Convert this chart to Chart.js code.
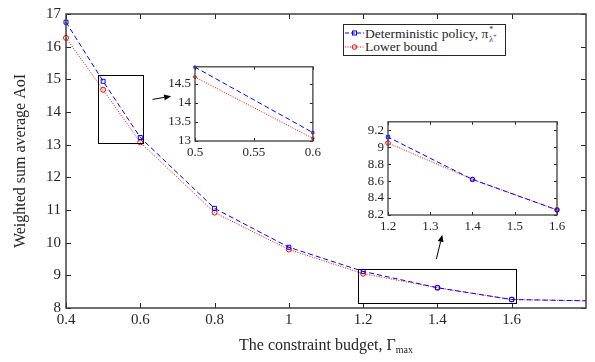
<!DOCTYPE html>
<html><head><meta charset="utf-8">
<script src="https://cdn.jsdelivr.net/npm/chart.js@4"></script>
<style>
html,body{margin:0;padding:0;background:#fff;}
#wrap{position:relative;width:595px;height:362px;overflow:hidden;font-family:"Liberation Serif","DejaVu Serif",serif;color:#262626;}
canvas{position:absolute;}
#legend{position:absolute;left:343px;top:24px;width:161px;height:30px;border:1px solid #262626;background:#fff;font-size:13.5px;font-family:"Liberation Serif",serif;}
#legend .row{position:absolute;left:0;height:14px;line-height:14px;white-space:nowrap;}
#legend svg{position:absolute;left:1px;top:0;}
#legend .txt{position:absolute;left:21px;top:0;font-family:"Liberation Serif",serif;}
.ss{display:inline-block;vertical-align:-4px;font-size:8px;line-height:7px;margin-left:1px;}
.ss span{display:block;}
#xtitle{position:absolute;left:176px;width:300px;top:336px;text-align:center;font-size:16px;line-height:18px;font-family:"Liberation Serif",serif;}
#xtitle sub{font-size:10px;vertical-align:-3px;}
</style></head><body>
<div id="wrap">
<canvas id="main" width="595" height="362" style="left:0;top:0;width:595px;height:362px"></canvas>
<canvas id="in1" width="185" height="115" style="left:140px;top:55px;width:185px;height:115px"></canvas>
<canvas id="in2" width="225" height="130" style="left:345px;top:110px;width:225px;height:130px"></canvas>
<div id="legend">
  <div class="row" style="top:1px;width:160px">
    <svg width="19" height="14"><line x1="0" y1="7" x2="19" y2="7" stroke="#0000ff" stroke-width="1" stroke-dasharray="4,2"/><rect x="7.5" y="5" width="4" height="4" fill="none" stroke="#0000ff" stroke-width="1"/></svg>
    <span class="txt">Deterministic policy, π<span class="ss"><span>*</span><span>λ<sup style="font-size:6px">+</sup></span></span></span>
  </div>
  <div class="row" style="top:15px;width:160px">
    <svg width="19" height="14"><line x1="0" y1="7" x2="19" y2="7" stroke="#ff0000" stroke-width="1" stroke-dasharray="1,1.5"/><circle cx="9.5" cy="7" r="2.3" fill="none" stroke="#ff0000" stroke-width="1"/></svg>
    <span class="txt">Lower bound</span>
  </div>
</div>
<div id="xtitle">The constraint budget, Γ<sub>max</sub></div>
</div>
<script>
// ---- data ----
const budget = [0.4, 0.5, 0.6, 0.8, 1.0, 1.2, 1.4, 1.6, 2.0];
const deterministicAoI = [16.75, 14.94, 13.22, 11.05, 9.86, 9.12, 8.62, 8.26, 8.18];
const lowerBoundAoI = [16.27, 14.68, 13.07, 10.92, 9.79, 9.05, 8.62, 8.26, 8.18];
const mainXTicks = [0.4, 0.6, 0.8, 1.0, 1.2, 1.4, 1.6];
const mainYTicks = [8, 9, 10, 11, 12, 13, 14, 15, 16, 17];
const inset1XTicks = [0.5, 0.55, 0.6];
const inset1YTicks = [13, 13.5, 14, 14.5];
const inset2XTicks = [1.2, 1.3, 1.4, 1.5, 1.6];
const inset2YTicks = [8.2, 8.4, 8.6, 8.8, 9.0, 9.2];
// zoom boxes [x0, x1, y0, y1] and arrows [xStart, yStart, xEnd, yEnd] in data units
const zoomBoxes = [[0.485, 0.605, 13.05, 15.13], [1.187, 1.612, 8.14, 9.19]];
const zoomArrows = [[0.633, 14.385, 0.683, 14.485], [1.397, 9.494, 1.413, 10.24]];

const SERIF = "'Liberation Serif', 'Times New Roman', serif";
Chart.defaults.font.family = SERIF;
Chart.defaults.color = '#262626';

const pts = (ys) => budget.map((x, i) => ({x, y: ys[i]}));
const fmt = v => String(+(+v).toFixed(2));

const frame = {
  id: 'frame',
  afterDatasetsDraw(chart, args, o) {
    const {ctx, chartArea: a, scales: {x, y}} = chart;
    ctx.save();
    ctx.strokeStyle = '#262626';
    ctx.lineWidth = 1;
    const L = o.len;
    ctx.beginPath();
    o.xt.forEach(v => {
      const px = Math.round(x.getPixelForValue(v)) + 0.5;
      ctx.moveTo(px, a.bottom); ctx.lineTo(px, a.bottom - L);
      ctx.moveTo(px, a.top); ctx.lineTo(px, a.top + L);
    });
    o.yt.forEach(v => {
      const py = Math.round(y.getPixelForValue(v)) + 0.5;
      ctx.moveTo(a.left, py); ctx.lineTo(a.left + L, py);
      ctx.moveTo(a.right, py); ctx.lineTo(a.right - L, py);
    });
    ctx.stroke();
    ctx.lineWidth = o.bw;
    ctx.strokeStyle = '#404040';
    ctx.strokeRect(a.left, a.top, a.right - a.left, a.bottom - a.top);
    if (o.boxes) {
      ctx.strokeStyle = '#000';
      ctx.lineWidth = 1;
      o.boxes.forEach(b => {
        const x0 = x.getPixelForValue(b[0]), x1 = x.getPixelForValue(b[1]);
        const y0 = y.getPixelForValue(b[2]), y1 = y.getPixelForValue(b[3]);
        ctx.strokeRect(Math.round(x0) + 0.5, Math.round(y1) + 0.5, Math.round(x1 - x0), Math.round(y0 - y1));
      });
      o.arrows.forEach(r => {
        const sx = x.getPixelForValue(r[0]), sy = y.getPixelForValue(r[1]);
        const ex = x.getPixelForValue(r[2]), ey = y.getPixelForValue(r[3]);
        const ang = Math.atan2(ey - sy, ex - sx);
        const h = 7, w = 3;
        const bx = ex - h * Math.cos(ang), by = ey - h * Math.sin(ang);
        ctx.beginPath(); ctx.moveTo(sx, sy); ctx.lineTo(bx, by); ctx.stroke();
        ctx.beginPath();
        ctx.moveTo(ex, ey);
        ctx.lineTo(bx + w * Math.sin(ang), by - w * Math.cos(ang));
        ctx.lineTo(bx - w * Math.sin(ang), by + w * Math.cos(ang));
        ctx.closePath(); ctx.fillStyle = '#000'; ctx.fill();
      });
    }
    ctx.restore();
  }
};
const whiteBg = {
  id: 'whiteBg',
  beforeDraw(chart) {
    const {ctx, chartArea: a} = chart;
    ctx.save(); ctx.fillStyle = '#fff';
    ctx.fillRect(a.left, a.top, a.right - a.left, a.bottom - a.top);
    ctx.restore();
  }
};

function datasets(rB, rR, clip) {
  return [
    {data: pts(deterministicAoI), borderColor: '#0000ff', borderWidth: 1, borderDash: [5, 3],
     pointStyle: 'rect', pointRadius: rB, pointBorderColor: '#0000ff', pointBackgroundColor: 'rgba(0,0,0,0)',
     pointBorderWidth: 1, tension: 0, clip},
    {data: pts(lowerBoundAoI), borderColor: '#ff0000', borderWidth: 1, borderDash: [1, 1.5],
     pointStyle: 'circle', pointRadius: rR, pointBorderColor: '#ff0000', pointBackgroundColor: 'rgba(0,0,0,0)',
     pointBorderWidth: 1, tension: 0, clip}
  ];
}

function makeChart(id, cfg) {
  return new Chart(document.getElementById(id), {
    type: 'line',
    data: {datasets: datasets(cfg.rB, cfg.rR, cfg.clip)},
    plugins: cfg.bg ? [whiteBg, frame] : [frame],
    options: {
      responsive: false, animation: false, devicePixelRatio: 1,
      layout: {padding: cfg.pad},
      plugins: {legend: {display: false}, tooltip: {enabled: false},
        frame: {xt: cfg.xt, yt: cfg.yt, len: cfg.len, bw: cfg.bw, boxes: cfg.boxes, arrows: cfg.arrows}},
      scales: {
        x: {type: 'linear', min: cfg.xr[0], max: cfg.xr[1],
          grid: {display: false, drawTicks: false}, border: {display: false},
          afterBuildTicks: s => { s.ticks = cfg.xt.map(v => ({value: v})); },
          afterFit: s => { s.height = cfg.xh; },
          ticks: {font: {family: SERIF, size: cfg.fs}, padding: cfg.xpad, maxRotation: 0, autoSkip: false, callback: fmt}},
        y: {type: 'linear', min: cfg.yr[0], max: cfg.yr[1],
          grid: {display: false, drawTicks: false}, border: {display: false},
          afterBuildTicks: s => { s.ticks = cfg.yt.map(v => ({value: v})); },
          afterFit: s => { s.width = cfg.yw; },
          title: cfg.ytitle ? {display: true, text: cfg.ytitle, font: {family: SERIF, size: 16}, padding: {top: 11, bottom: 0}} : {display: false},
          ticks: {font: {family: SERIF, size: cfg.fs}, padding: cfg.ypad, autoSkip: false, callback: fmt}}
      }
    }
  });
}

makeChart('main', {xr: [0.4, 1.8], yr: [8, 17], xt: mainXTicks, yt: mainYTicks,
  pad: {top: 11, right: 9, left: 0, bottom: 0}, xh: 54, yw: 66, fs: 15, xpad: 3, ypad: 5,
  len: 5, bw: 1.5, rB: 2.8, rR: 2.5, clip: {left: 8, top: 8, right: 0, bottom: 8},
  ytitle: 'Weighted sum average AoI', boxes: zoomBoxes, arrows: zoomArrows});

makeChart('in1', {xr: [0.5, 0.6], yr: [13, 14.95], xt: inset1XTicks, yt: inset1YTicks,
  pad: {top: 6, right: 11, left: 0, bottom: 0}, xh: 29, yw: 55, fs: 13, xpad: 4, ypad: 4,
  len: 3, bw: 1.3, rB: 1.6, rR: 1.4, clip: 2, bg: true});

makeChart('in2', {xr: [1.2, 1.6], yr: [8.2, 9.3], xt: inset2XTicks, yt: inset2YTicks,
  pad: {top: 7, right: 13, left: 0, bottom: 0}, xh: 25, yw: 43, fs: 13, xpad: 4, ypad: 4,
  len: 3, bw: 1.3, rB: 2.4, rR: 2.3, clip: 3, bg: true});
</script>
</body></html>
